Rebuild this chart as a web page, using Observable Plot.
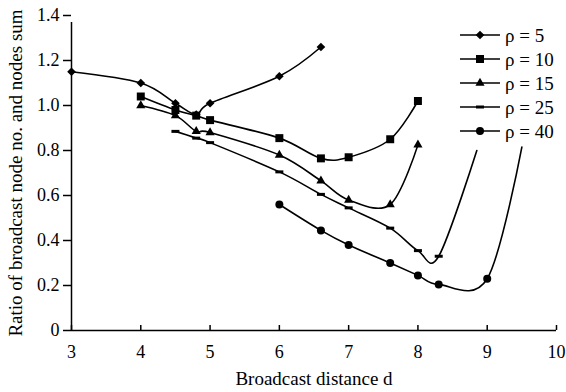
<!DOCTYPE html>
<html><head><meta charset="utf-8">
<script src="https://cdn.jsdelivr.net/npm/d3@7"></script>
<script src="https://cdn.jsdelivr.net/npm/@observablehq/plot@0.6"></script>
<style>
body{margin:0;background:#fff;}
#wrap{position:relative;width:566px;height:392px;font-family:"Liberation Serif","Times New Roman",serif;}
#legend{position:absolute;left:0;top:0;}
</style></head><body><div id="wrap"></div>
<script>
const seriesNames = ["ρ = 5", "ρ = 10", "ρ = 15", "ρ = 25", "ρ = 40"];
const x5 = [3, 4, 4.5, 4.8, 5, 6, 6.6];
const y5 = [1.15, 1.10, 1.01, 0.96, 1.01, 1.13, 1.26];
const x10 = [4, 4.5, 4.8, 5, 6, 6.6, 7, 7.6, 8];
const y10 = [1.04, 0.98, 0.955, 0.935, 0.855, 0.765, 0.77, 0.85, 1.02];
const x15 = [4, 4.5, 4.8, 5, 6, 6.6, 7, 7.6, 8];
const y15 = [1.0, 0.955, 0.885, 0.88, 0.78, 0.665, 0.58, 0.56, 0.825];
const x25 = [4.5, 4.8, 5, 6, 6.6, 7, 7.6, 8, 8.3, 8.85];
const y25 = [0.885, 0.855, 0.835, 0.705, 0.605, 0.545, 0.455, 0.355, 0.33, 0.80];
const x40 = [6, 6.6, 7, 7.6, 8, 8.3, 9, 9.5];
const y40 = [0.56, 0.445, 0.38, 0.30, 0.245, 0.205, 0.23, 0.815];
// series whose last point is drawn as line only (no marker)
const unmarkedLast = ["ρ = 25", "ρ = 40"];
const xTicks = [3, 4, 5, 6, 7, 8, 9, 10];
const yTicks = [0, 0.2, 0.4, 0.6, 0.8, 1.0, 1.2, 1.4];
const xLabel = "Broadcast distance d";
const yLabel = "Ratio of broadcast node no. and nodes sum";

const FONT = '"Liberation Serif", "Times New Roman", serif';
const xs = [x5, x10, x15, x25, x40], ys = [y5, y10, y15, y25, y40];
const rows = seriesNames.flatMap((s, k) => xs[k].map((x, i) => ({
  s, x, y: ys[k][i],
  marked: !(unmarkedLast.includes(s) && i === xs[k].length - 1)
})));

const dash = {draw(ctx, size) { ctx.rect(-4, -1.5, 8, 3); }};
const markerStyle = {
  "ρ = 5": {symbol: "diamond2", r: 3.9},
  "ρ = 10": {symbol: "square", r: 4.5},
  "ρ = 15": {symbol: "triangle", r: 3.4},
  "ρ = 25": {symbol: dash, r: 4},
  "ρ = 40": {symbol: "circle", r: 4}
};

const marks = [
  Plot.ruleY([0], {stroke: "#000", strokeWidth: 1.5}),
  Plot.ruleX([3], {y1: 0, y2: 1.4, insetBottom: -7, stroke: "#000", strokeWidth: 1.5}),
  Plot.ruleX(xTicks, {x: d => d, y1: 0, y2: 0, insetTop: -5, stroke: "#000", strokeWidth: 1.5}),
  Plot.axisX(xTicks, {tickSize: 0, tickPadding: 15, label: null, fontSize: 18, fontFamily: FONT, fill: "#000"}),
  Plot.axisY(yTicks, {tickSize: 8, tickPadding: 4, strokeWidth: 1.5, label: null, fontSize: 18, fontFamily: FONT, fill: "#000",
    tickFormat: d => d === 0 ? "0" : d.toFixed(1)}),
  Plot.text([xLabel], {frameAnchor: "bottom", dy: 54, fontSize: 19, fontFamily: FONT, fill: "#000"}),
  Plot.text([yLabel], {frameAnchor: "left", textAnchor: "middle", rotate: -90, dx: -56, fontSize: 19, fontFamily: FONT, fill: "#000"}),
  Plot.line(rows, {x: "x", y: "y", z: "s", curve: "cardinal", tension: 0, stroke: "#000", strokeWidth: 1.6})
];
for (const s of seriesNames) {
  const m = markerStyle[s];
  marks.push(Plot.dot(rows.filter(d => d.s === s && d.marked), {x: "x", y: "y", symbol: () => m.symbol, r: m.r, fill: "#000", stroke: "none"}));
}

const chart = Plot.plot({
  width: 566, height: 392,
  marginLeft: 71, marginRight: 10, marginTop: 15, marginBottom: 62,
  x: {domain: [3, 10]},
  y: {domain: [0, 1.4]},
  symbol: {type: "identity"},
  style: {fontFamily: FONT, fontSize: "18px", color: "#000", background: "#fff"},
  marks
});
const wrap = document.getElementById("wrap");
wrap.appendChild(chart);

// legend overlay
const leg = d3.select(wrap).append("svg").attr("id", "legend").attr("width", 566).attr("height", 160);
seriesNames.forEach((s, i) => {
  const cy = 35 + i * 24;
  const g = leg.append("g").attr("transform", `translate(460,${cy})`);
  g.append("line").attr("x1", 0).attr("x2", 40).attr("stroke", "#000").attr("stroke-width", 1.6);
  const m = markerStyle[s];
  if (m.symbol === "circle") g.append("circle").attr("cx", 20).attr("r", m.r).attr("fill", "#000");
  else {
    const type = typeof m.symbol === "string" ? {diamond2: d3.symbolDiamond2, square: d3.symbolSquare, triangle: d3.symbolTriangle}[m.symbol] : m.symbol;
    g.append("path").attr("transform", "translate(20,0)").attr("d", d3.symbol(type, m.r * m.r * Math.PI)()).attr("fill", "#000");
  }
  g.append("text").attr("x", 45).attr("dy", "0.35em").attr("font-size", 19)
    .attr("font-family", FONT).attr("fill", "#000").text(s);
});
</script></body></html>
